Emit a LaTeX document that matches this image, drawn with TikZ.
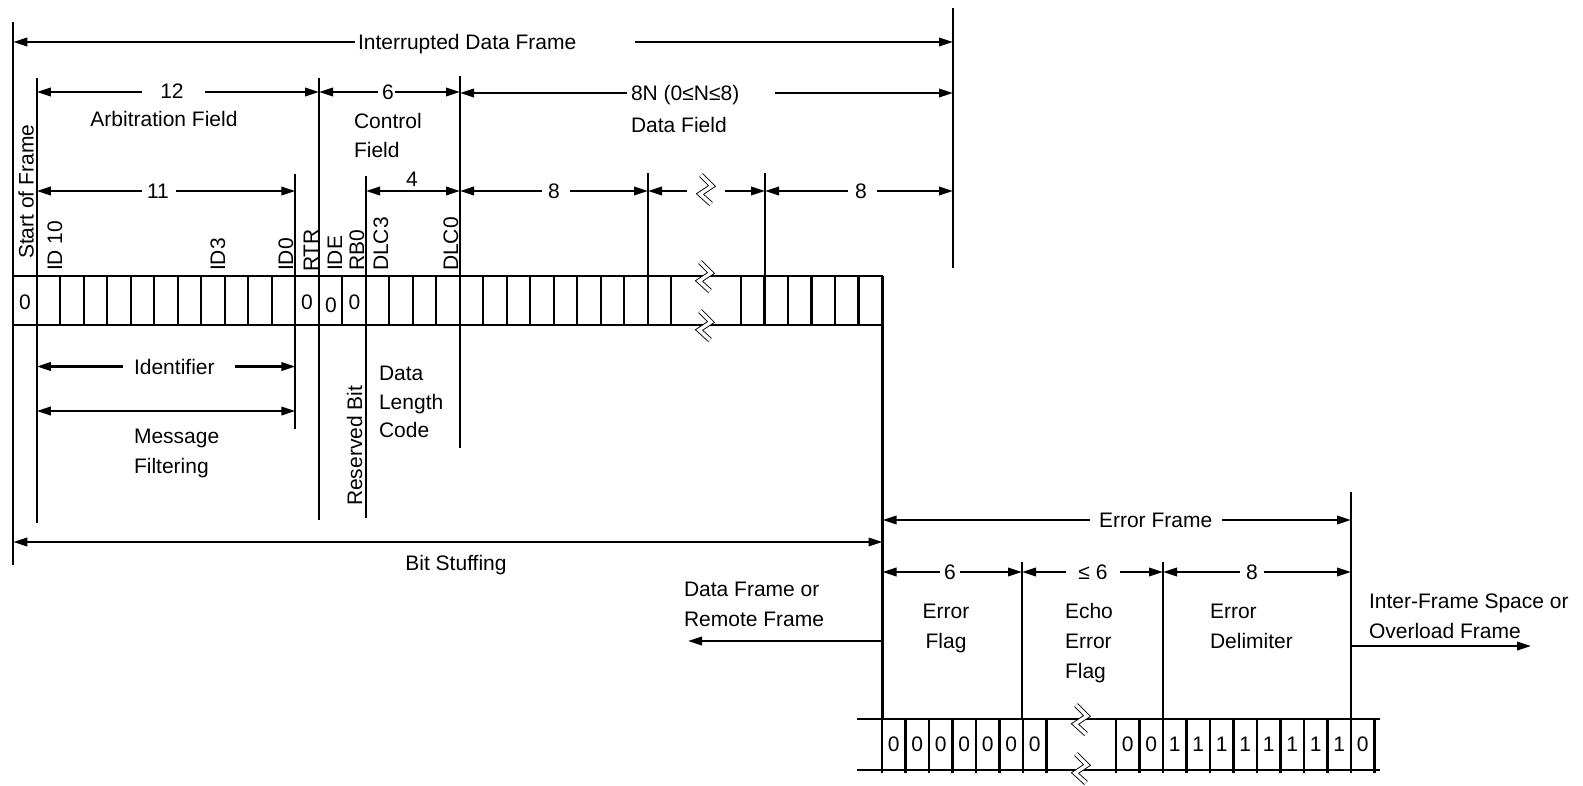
\documentclass[tikz,border=0pt]{standalone}
\usepackage{fontspec}
\setmainfont{Liberation Sans}
\usetikzlibrary{arrows.meta}
\begin{document}
\begin{tikzpicture}[x=1pt,y=-1pt,line width=2.1pt,
  dim/.style={-{Triangle[length=14pt,width=8.5pt]}},
  dimb/.style={{Triangle[length=14pt,width=8.5pt]}-{Triangle[length=14pt,width=8.5pt]}},
  lbl/.style={inner sep=0pt,font=\fontsize{21}{25}\selectfont},
  brk/.style={line width=0.9pt,double=white,double distance=3.4pt,line join=miter}]
\useasboundingbox (0,0) rectangle (1583,785);

% ---------- upper bit row ----------
\draw (13.3,276) -- (882.5,276);
\draw (13.3,325) -- (882.5,325);
\foreach \i in {0,...,28} \draw ({13.3+23.5*\i},276) -- ({13.3+23.5*\i},325);
\foreach \k in {0,...,6} \draw ({741+23.5*\k},276) -- ({741+23.5*\k},325);

\node[lbl,anchor=base] (b0) at (25,309.5) {0};
\node[lbl,anchor=base] (b12) at (307,309.5) {0};
\node[lbl,anchor=base] (b13) at (331,312) {0};
\node[lbl,anchor=base] (b14) at (354.5,309.5) {0};

% rotated bit names
\node[lbl,rotate=90,anchor=base west] (sof) at (33.5,260) {Start of Frame};
\node[lbl,rotate=90,anchor=base west] (id10) at (62,272) {ID 10};
\node[lbl,rotate=90,anchor=base west] (id3) at (225,272) {ID3};
\node[lbl,rotate=90,anchor=base west] (id0) at (293,272) {ID0};
\node[lbl,rotate=90,anchor=base west] (rtr) at (318,273) {RTR};
\node[lbl,rotate=90,anchor=base west] (ide) at (342,272) {IDE};
\node[lbl,rotate=90,anchor=base west] (rb0) at (364,272) {RB0};
\node[lbl,rotate=90,anchor=base west] (dlc3) at (388,272) {DLC3};
\node[lbl,rotate=90,anchor=base west] (dlc0) at (458,272) {DLC0};
\node[lbl,rotate=90,anchor=base west] (resb) at (362,507) {Reserved Bit};

% ---------- vertical lines ----------
\draw (13.3,22) -- (13.3,565);
\draw (36.8,78) -- (36.8,523);
\draw (295.3,174) -- (295.3,429);
\draw (319,78) -- (319,520);
\draw (366,176) -- (366,518);
\draw (460,76) -- (460,448);
\draw (648,173) -- (648,276);
\draw (765,173) -- (765,276);
\draw (953,8) -- (953,268);
\draw (882.5,276) -- (882.5,719);
\draw (1022,562) -- (1022,719);
\draw (1163,562) -- (1163,719);
\draw (1351,492) -- (1351,770);

% ---------- upper dimension arrows ----------
\node[lbl,anchor=base west] (idf) at (357,49.5) {Interrupted Data Frame};
\draw[dim] (355,42) -- (13.3,42);
\draw[dim] (635,42) -- (953,42);

\node[lbl,anchor=base] (n12) at (172,98.5) {12};
\draw[dim] (142,92) -- (36.8,92);
\draw[dim] (205,92) -- (319,92);
\node[lbl,anchor=base] (arb) at (164,126.5) {Arbitration Field};

\node[lbl,anchor=base] (n6) at (388,99.5) {6};
\draw[dim] (378,92) -- (319,92);
\draw[dim] (395,92) -- (460,92);
\node[lbl,anchor=base west] (ctl1) at (353,128.5) {Control};
\node[lbl,anchor=base west] (ctl2) at (353,157.5) {Field};

\node[lbl,anchor=base west] (n8n) at (630,100.5) {8N (0≤N≤8)};
\draw[dim] (627,93) -- (460,93);
\draw[dim] (775,93) -- (953,93);
\node[lbl,anchor=base west] (df) at (630,132.5) {Data Field};

\node[lbl,anchor=base] (n11) at (158,198.5) {11};
\draw[dim] (142,191) -- (36.8,191);
\draw[dim] (176,191) -- (295.3,191);

\node[lbl,anchor=base] (n4) at (412,186.5) {4};
\draw[dimb] (366,191) -- (460,191);

\node[lbl,anchor=base] (n8a) at (554,198.5) {8};
\draw[dim] (542,191) -- (460,191);
\draw[dim] (570,191) -- (648,191);

\draw[dim] (687,191) -- (648,191);
\draw[dim] (725,191) -- (765,191);

\node[lbl,anchor=base] (n8b) at (861,198.5) {8};
\draw[dim] (848,191) -- (765,191);
\draw[dim] (877,191) -- (953,191);

% ---------- lower left annotations ----------
\node[lbl,anchor=base west] (ident) at (133,374) {Identifier};
\draw[dim] (123,366.5) -- (36.8,366.5);
\draw[dim] (235,366.5) -- (295.3,366.5);

\draw[dimb] (36.8,411) -- (295.3,411);
\node[lbl,anchor=base west] (msg1) at (133,443.5) {Message};
\node[lbl,anchor=base west] (msg2) at (133,473.5) {Filtering};

\node[lbl,anchor=base west] (dlc1) at (378,380.5) {Data};
\node[lbl,anchor=base west] (dlc2) at (378,409.5) {Length};
\node[lbl,anchor=base west] (dlc3t) at (378,437.5) {Code};

\draw[dimb] (13.3,542) -- (882.5,542);
\node[lbl,anchor=base] (bs) at (456,570.5) {Bit Stuffing};

% ---------- error frame ----------
\node[lbl,anchor=base west] (ef) at (1098,527.5) {Error Frame};
\draw[dim] (1090,520) -- (882.5,520);
\draw[dim] (1222,520) -- (1351,520);

\node[lbl,anchor=base] (e6) at (950,579.5) {6};
\draw[dim] (940,572) -- (882.5,572);
\draw[dim] (960,572) -- (1022,572);

\node[lbl,anchor=base] (e6b) at (1093,579.5) {≤ 6};
\draw[dim] (1066,572) -- (1022,572);
\draw[dim] (1120,572) -- (1163,572);

\node[lbl,anchor=base] (e8) at (1252,579.5) {8};
\draw[dim] (1240,572) -- (1163,572);
\draw[dim] (1264,572) -- (1351,572);

\node[lbl,anchor=base] (efl1) at (946,618.5) {Error};
\node[lbl,anchor=base] (efl2) at (946,648.5) {Flag};
\node[lbl,anchor=base west] (ech1) at (1064,618.5) {Echo};
\node[lbl,anchor=base west] (ech2) at (1064,648.5) {Error};
\node[lbl,anchor=base west] (ech3) at (1064,678.5) {Flag};
\node[lbl,anchor=base west] (edl1) at (1209,618.5) {Error};
\node[lbl,anchor=base west] (edl2) at (1209,648.5) {Delimiter};

\node[lbl,anchor=base west] (ifs1) at (1368,608.5) {Inter-Frame Space or};
\node[lbl,anchor=base west] (ifs2) at (1368,638.5) {Overload Frame};
\draw[dim] (1351,646) -- (1531,646);

\node[lbl,anchor=base west] (dfr1) at (683,596.5) {Data Frame or};
\node[lbl,anchor=base west] (dfr2) at (683,626.5) {Remote Frame};
\draw[dim] (882.5,641) -- (688,641);

% ---------- lower bit row ----------
\draw (857,719) -- (1380,719);
\draw (857,770) -- (1380,770);
\foreach \k in {0,...,7} \draw ({882+23.5*\k},719) -- ({882+23.5*\k},773);
\foreach \k in {0,...,11} \draw ({1116+23.5*\k},719) -- ({1116+23.5*\k},773);
\foreach \k in {0,...,6} \node[lbl,anchor=base] (eb\k) at ({893.75+23.5*\k},751.5) {0};
\foreach \k/\v in {0/0,1/0,2/1,3/1,4/1,5/1,6/1,7/1,8/1,9/1,10/0}
  \node[lbl,anchor=base] (ed\k) at ({1127.75+23.5*\k},751.5) {\v};

% ---------- break marks ----------
\foreach \cx/\cy in {705/276,705/325,706/189,1081/719,1081/768}
  \draw[brk] (\cx-5,\cy-14) -- (\cx+6,\cy-3) -- (\cx-6,\cy+5) -- (\cx+5,\cy+15);
\end{tikzpicture}
\end{document}
